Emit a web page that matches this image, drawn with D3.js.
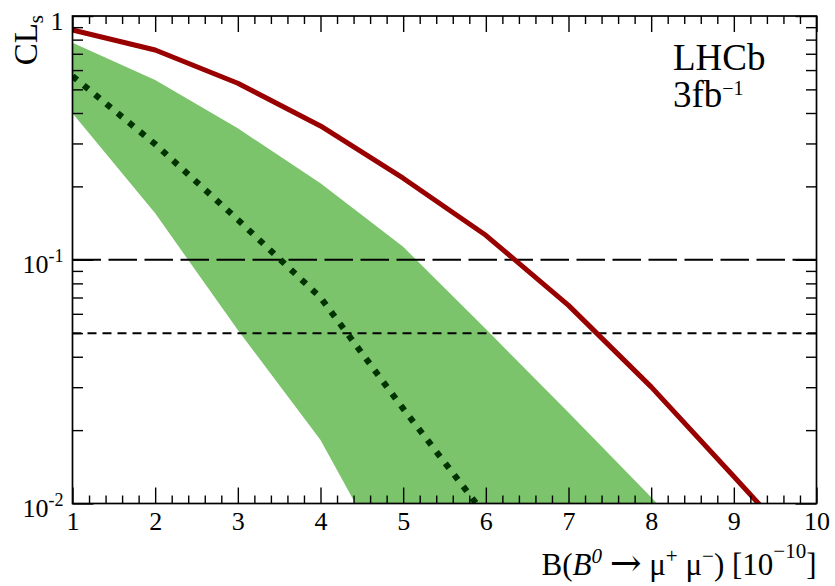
<!DOCTYPE html>
<html><head><meta charset="utf-8">
<script src="https://cdn.jsdelivr.net/npm/d3@7"></script>
<style>
body{margin:0;background:#fff}
svg{display:block}
text{font-family:"Liberation Serif","Times New Roman",serif;fill:#000}
</style>
</head><body><svg id="c" width="835" height="586"></svg>
<script>
// ---- data ----
const bValues     = [1, 2, 3, 4, 5, 6, 7, 8, 9, 10];
const clsObserved = [0.876, 0.725, 0.530, 0.354, 0.216, 0.126, 0.065, 0.0301, 0.0129, 0.0055];
const clsExpected = [0.567, 0.298, 0.146, 0.070, 0.0245, 0.0089, 0.003, 0.001, 0.0003, 0.0001];
const bandUpper   = [0.777, 0.546, 0.346, 0.206, 0.113, 0.052, 0.0236, 0.0106, 0.0047, 0.002];
const bandLower   = [0.399, 0.155, 0.0515, 0.0182, 0.0044, 0.0011, 0.0003, 0.0001, 0.00004, 0.00001];
const refLevels   = [0.1, 0.05];
const xTicks      = [1, 2, 3, 4, 5, 6, 7, 8, 9, 10];
const xTickLabels = ["1", "2", "3", "4", "5", "6", "7", "8", "9", "10"];
const yTicks      = [1, 0.1, 0.01];
const yTickBase   = ["1", "10", "10"];
const yTickExp    = ["", "-1", "-2"];

// ---- layout ----
const L = 72.5, R = 816.5, T = 16, B = 503.5;
const svg = d3.select("#c");
const x = d3.scaleLinear().domain([1, 10]).range([L, R]);
const y = d3.scaleLog().domain([0.01, 1]).range([B, T]);

svg.append("defs").append("clipPath").attr("id", "clip")
  .append("rect").attr("x", L).attr("y", T).attr("width", R - L).attr("height", B - T);
const plot = svg.append("g").attr("clip-path", "url(#clip)");

const rows = bValues.map((b, i) => ({b, obs: clsObserved[i], exp: clsExpected[i], up: bandUpper[i], lo: bandLower[i]}));

// band
plot.append("path").datum(rows)
  .attr("d", d3.area().x(d => x(d.b)).y0(d => y(d.lo)).y1(d => y(d.up)))
  .attr("fill", "#7bc46c");

// reference lines
plot.append("line").attr("x1", L).attr("x2", R).attr("y1", y(refLevels[0])).attr("y2", y(refLevels[0]))
  .attr("stroke", "#000").attr("stroke-width", 2).attr("stroke-dasharray", "28.5,7.5");
plot.append("line").attr("x1", L).attr("x2", R).attr("y1", y(refLevels[1])).attr("y2", y(refLevels[1]))
  .attr("stroke", "#000").attr("stroke-width", 2).attr("stroke-dasharray", "9,6");

// expected (dotted)
plot.append("path").datum(rows)
  .attr("d", d3.line().x(d => x(d.b)).y(d => y(d.exp)))
  .attr("fill", "none").attr("stroke", "#003300").attr("stroke-width", 6.2)
  .attr("stroke-dasharray", "6,8.6");

// observed
plot.append("path").datum(rows)
  .attr("d", d3.line().x(d => x(d.b)).y(d => y(d.obs)))
  .attr("fill", "none").attr("stroke", "#990000").attr("stroke-width", 5)
  .attr("stroke-linejoin", "round");

// ---- axes ----
const xMinor = d3.range(1, 10.001, 0.2).filter(v => Math.abs(v - Math.round(v)) > 1e-6);
const yMinor = [];
[0.01, 0.1].forEach(d => { for (let k = 2; k <= 9; k++) yMinor.push(d * k); });

function styleAxis(g) {
  g.select(".domain").remove();
  g.selectAll(".tick line").attr("stroke", "#000").attr("stroke-width", 1.4);
}

// bottom major with labels
const gxB = svg.append("g").attr("transform", `translate(0,${B})`)
  .call(d3.axisBottom(x).tickValues(xTicks).tickSize(-16).tickSizeOuter(0)
    .tickFormat((d, i) => xTickLabels[i]));
styleAxis(gxB);
gxB.selectAll(".tick text").attr("y", 0).attr("dy", 0).attr("transform", "translate(0,26)")
  .attr("font-size", 26).attr("font-family", "Liberation Serif").attr("fill", "#000");
svg.append("g").attr("transform", `translate(0,${B})`)
  .call(d3.axisBottom(x).tickValues(xMinor).tickSize(-8).tickFormat("")).call(styleAxis);
// top
svg.append("g").attr("transform", `translate(0,${T})`)
  .call(d3.axisTop(x).tickValues(xTicks).tickSize(-16).tickFormat("")).call(styleAxis);
svg.append("g").attr("transform", `translate(0,${T})`)
  .call(d3.axisTop(x).tickValues(xMinor).tickSize(-8).tickFormat("")).call(styleAxis);
// left
const gyL = svg.append("g").attr("transform", `translate(${L},0)`)
  .call(d3.axisLeft(y).tickValues(yTicks).tickSize(-21).tickFormat(() => ""));
styleAxis(gyL);
gyL.selectAll(".tick text").each(function (d, i) {
  const t = d3.select(this).attr("x", -9).attr("dy", 0).attr("y", 13)
    .attr("text-anchor", "end").attr("font-size", 26).attr("font-family", "Liberation Serif");
  t.text(null);
  t.append("tspan").text(yTickBase[i]);
  if (yTickExp[i]) t.append("tspan").attr("font-size", 18).attr("dy", -11).text(yTickExp[i]);
});
svg.append("g").attr("transform", `translate(${L},0)`)
  .call(d3.axisLeft(y).tickValues(yMinor).tickSize(-10.5).tickFormat("")).call(styleAxis);
// right
svg.append("g").attr("transform", `translate(${R},0)`)
  .call(d3.axisRight(y).tickValues(yTicks).tickSize(-21).tickFormat("")).call(styleAxis);
svg.append("g").attr("transform", `translate(${R},0)`)
  .call(d3.axisRight(y).tickValues(yMinor).tickSize(-10.5).tickFormat("")).call(styleAxis);

// frame
svg.append("rect").attr("x", L).attr("y", T).attr("width", R - L).attr("height", B - T)
  .attr("fill", "none").attr("stroke", "#000").attr("stroke-width", 1.7);

// ---- titles ----
const yl = svg.append("text").attr("transform", `translate(37,${T - 1}) rotate(-90)`)
  .attr("text-anchor", "end").attr("font-size", 33);
yl.append("tspan").text("CL");
yl.append("tspan").attr("font-size", 21).attr("dy", 6).text("s");

const xl = svg.append("text").attr("x", R).attr("y", 575).attr("text-anchor", "end").attr("font-size", 31);
xl.append("tspan").text("B(");
xl.append("tspan").attr("font-style", "italic").text("B");
xl.append("tspan").attr("font-style", "italic").attr("font-size", 21).attr("dy", -12).text("0");
xl.append("tspan").attr("dy", 12).text(" ");
xl.append("tspan").attr("font-family", "DejaVu Serif").attr("font-size", 38).attr("dy", 1).text("\u2192");
xl.append("tspan").attr("dy", -1).text(" \u03bc");
xl.append("tspan").attr("font-size", 21).attr("dy", -12).text("+");
xl.append("tspan").attr("dy", 12).text(" \u03bc");
xl.append("tspan").attr("font-size", 21).attr("dy", -12).text("\u2212");
xl.append("tspan").attr("dy", 12).text(") [10");
xl.append("tspan").attr("font-size", 21).attr("dy", -17).text("\u221210");
xl.append("tspan").attr("dy", 17).text("]");

svg.append("text").attr("x", 673).attr("y", 70).attr("font-size", 37).text("LHCb");
const lum = svg.append("text").attr("x", 673).attr("y", 107).attr("font-size", 37);
lum.append("tspan").text("3fb");
lum.append("tspan").attr("font-size", 20).attr("dy", -12.5).text("\u22121");
</script>
</body></html>
